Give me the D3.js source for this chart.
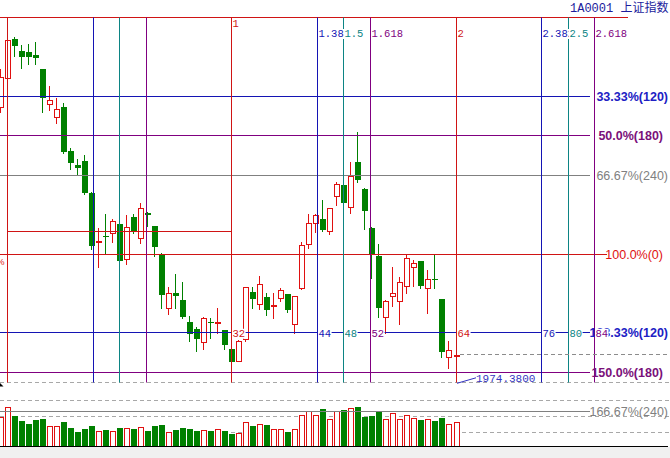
<!DOCTYPE html>
<html><head><meta charset="utf-8">
<script src="https://cdn.jsdelivr.net/npm/d3@7"></script>
<style>html,body{margin:0;padding:0;background:#fff;overflow:hidden}svg{display:block}</style>
</head><body>
<svg id="c" width="670" height="458"></svg>
<script>
// ---------- data ----------
const barIndex = d3.range(-1, 65);
const opens  = [2199.5,2224.0,2257.8,2247.5,2246.3,2244.0,2231.7,2201.9,2190.4,2199.0,2161.4,2149.3,2152.8,2125.0,2084.0,2088.6,2090.6,2098.3,2068.7,2104.3,2086.3,2108.3,2096.9,2072.8,2026.0,2038.9,2033.2,2014.0,2008.0,1997.3,2014.6,2013.9,2007.3,1991.0,1980.9,1999.4,2039.8,2029.5,2035.5,2028.7,2034.6,2038.1,2012.5,2043.2,2081.4,2099.7,2102.9,2092.8,2122.7,2132.1,2113.5,2151.7,2128.7,2095.4,2071.0,2018.3,2036.9,2032.6,2045.2,2061.8,2066.7,2043.2,2051.1,2034.0,1983.9,1985.6];
const highs  = [2232.0,2257.5,2259.8,2252.6,2253.5,2255.0,2232.0,2217.3,2206.7,2202.4,2163.7,2154.2,2158.0,2126.4,2094.9,2107.2,2102.9,2098.5,2106.3,2107.2,2116.4,2109.2,2097.2,2073.6,2044.1,2055.3,2048.9,2019.4,2010.2,2018.8,2017.9,2026.5,2007.5,1991.5,1998.5,2044.5,2044.6,2053.8,2039.0,2038.9,2043.8,2038.5,2037.0,2083.4,2106.9,2107.2,2119.2,2112.5,2135.0,2132.5,2152.2,2178.0,2129.8,2095.8,2081.4,2033.0,2061.3,2053.2,2071.9,2067.6,2067.0,2059.0,2071.9,2034.3,1997.9,1986.2];
const lows   = [2195.2,2223.5,2243.2,2232.6,2236.0,2236.0,2195.2,2196.7,2185.2,2159.9,2145.6,2140.7,2124.1,2077.0,2061.8,2073.9,2082.8,2066.5,2063.9,2090.6,2082.5,2096.9,2070.6,2026.0,2020.9,2026.0,2017.4,1998.2,1989.5,1990.8,2000.2,2004.5,1990.8,1979.5,1980.5,1998.0,2026.0,2025.2,2020.3,2017.9,2032.3,2023.1,2004.5,2042.8,2077.7,2092.0,2092.8,2090.0,2114.9,2116.0,2107.8,2135.0,2094.0,2051.9,2018.3,2004.8,2028.3,2012.3,2039.5,2045.2,2043.2,2022.2,2043.2,1984.4,1974.38,1985.5];
const closes = [2225.3,2256.9,2252.0,2242.0,2242.5,2241.7,2206.7,2205.3,2197.5,2160.8,2150.8,2147.0,2125.5,2079.6,2084.3,2088.4,2101.4,2067.0,2096.2,2092.5,2112.1,2106.1,2078.4,2037.5,2038.9,2036.6,2018.8,2003.7,1999.6,2017.9,2014.4,2014.1,1994.4,1980.1,1997.9,2044.1,2034.0,2046.7,2024.6,2029.1,2041.8,2024.6,2036.6,2080.5,2099.2,2106.3,2093.4,2112.1,2133.0,2116.4,2140.2,2136.5,2110.0,2071.9,2026.0,2032.6,2039.5,2048.4,2069.1,2064.8,2045.5,2051.5,2050.9,1988.7,1990.1,1986.0];
const volumes= [730,980,762,638,562,662,688,512,512,612,462,362,438,512,380,412,388,462,462,438,488,388,512,538,355,412,462,438,388,412,388,438,388,320,338,605,512,555,530,438,438,362,438,780,880,780,938,688,880,912,955,988,745,762,888,688,838,688,780,712,670,688,645,720,555,605];

const levelPcts    = [33.33, 50.0, 66.67, 100.0, 133.33, 150.0, 166.67];
const levelDegrees = [120, 180, 240, 0, 120, 180, 240];
const levelTop = 2276.5, levelBottom = 2072.7;   // 0% and 100% prices
const boxPrice = 2091.7;
const timeRatios = [0, 0.382, 0.5, 0.618, 1, 1.382, 1.5, 1.618, 2, 2.382, 2.5, 2.618];
const timeCycle = 32;
const volTicks = [340, 740, 1140, 1600];
const lowPrice = 1974.38;
const title = "1A0001 上证指数";

// ---------- setup ----------
const W = 670, H = 458;
const RED = "#e01010", LRED = "#d01414", GREEN = "#008000", BLUE = "#1414b4", TEAL = "#0c8484", PURPLE = "#800080";
const svg = d3.select("#c");
const x  = d3.scaleLinear().domain([0, 64]).range([7.3, 455.5]);
const y  = d3.scaleLinear().domain([1974.38, 2177.98]).range([368.3, 131.7]);
const vy = d3.scaleLinear().domain([0, 1600]).range([446.5, 382.5]);
const cr = v => Math.floor(v) + 0.5;
const levelY = p => y(levelTop + (levelBottom - levelTop) * p / 100);
const degColor = {120: BLUE, 180: PURPLE, 240: "#808080", 0: LRED};
const degLabel = {120: "#2020c4", 180: "#7a107a", 240: "#808080", 0: RED};
const ratioColor = r => { const f = Math.round((r % 1) * 1000); return f === 382 ? BLUE : f === 500 ? TEAL : f === 618 ? PURPLE : LRED; };
const MONO = "'Liberation Mono','DejaVu Sans Mono',monospace";
const SANS = "'Liberation Sans',Arial,sans-serif";

svg.append("rect").attr("width", W).attr("height", H).attr("fill", "#fff");

const candles = barIndex.map((i, k) => ({i, o: opens[k], h: highs[k], l: lows[k], c: closes[k], v: volumes[k]}));
const mainBottom = cr(vy(1600));

// dashed panel / volume grid lines
svg.append("g").selectAll("line").data(volTicks).join("line")
  .attr("x1", 0).attr("x2", W).attr("y1", d => cr(vy(d))).attr("y2", d => cr(vy(d)))
  .attr("stroke", "#a8a8a8").attr("stroke-dasharray", "4,3");

// volume bars
const vg = svg.append("g");
candles.forEach(d => {
  const X = Math.round(x(d.i));
  const up = d.c >= d.o;
  const top = Math.round(vy(d.v)), base = Math.round(vy(0));
  if (up) {
    vg.append("rect").attr("x", X - 1.5).attr("y", top + 0.5).attr("width", 5).attr("height", base - top - 1)
      .attr("fill", "#fff").attr("stroke", RED);
  } else {
    vg.append("rect").attr("x", X - 2).attr("y", top).attr("width", 6).attr("height", base - top).attr("fill", GREEN);
  }
});

// candles
const cg = svg.append("g");
candles.forEach(d => {
  const X = Math.round(x(d.i));
  const up = d.c >= d.o;
  const col = up ? RED : GREEN;
  cg.append("line").attr("x1", X + 0.5).attr("x2", X + 0.5)
    .attr("y1", Math.round(y(d.h))).attr("y2", Math.round(y(d.l)) + 1).attr("stroke", col);
  const top = Math.round(y(Math.max(d.o, d.c))), bot = Math.round(y(Math.min(d.o, d.c)));
  if (up) {
    cg.append("rect").attr("x", X - 1.5).attr("y", top + 0.5).attr("width", 5).attr("height", Math.max(bot - top, 1))
      .attr("fill", "#fff").attr("stroke", col);
  } else {
    cg.append("rect").attr("x", X - 2).attr("y", top).attr("width", 6).attr("height", Math.max(bot - top, 1)).attr("fill", col);
  }
});

// horizontal level lines
const lg = svg.append("g");
lg.append("line").attr("x1", 0).attr("x2", 628).attr("y1", cr(levelY(0))).attr("y2", cr(levelY(0))).attr("stroke", LRED);
lg.append("line").attr("x1", Math.round(x(0))).attr("x2", Math.round(x(timeCycle)) + 1)
  .attr("y1", cr(y(boxPrice))).attr("y2", cr(y(boxPrice))).attr("stroke", LRED);
levelPcts.forEach((p, k) => {
  const deg = levelDegrees[k];
  lg.append("line").attr("x1", 0).attr("x2", p === 100 ? 607 : 590)
    .attr("y1", cr(levelY(p))).attr("y2", cr(levelY(p))).attr("stroke", degColor[deg]);
});

// vertical time lines
timeRatios.forEach(r => {
  const lx = Math.round(x(r * timeCycle)) + 0.5;
  lg.append("line").attr("x1", lx).attr("x2", lx).attr("y1", cr(levelY(0))).attr("y2", mainBottom)
    .attr("stroke", ratioColor(r));
});

// current price dashed line
const last = candles[candles.length - 1];
svg.append("line").attr("x1", Math.round(x(last.i)) + 4).attr("x2", W)
  .attr("y1", cr(y(last.c))).attr("y2", cr(y(last.c)))
  .attr("stroke", "#8c8c8c").attr("stroke-dasharray", "4,3");

// level labels (right)
levelPcts.forEach((p, k) => {
  const deg = levelDegrees[k];
  const bold = deg === 120 || deg === 180;
  svg.append("text").attr("x", p % 1 === 0 ? 663 : 668).attr("y", levelY(p) + 4.5).attr("text-anchor", "end")
    .attr("font-family", SANS).attr("font-size", 12.5).attr("font-weight", bold ? "bold" : "normal")
    .attr("fill", degLabel[deg]).text(p.toFixed(p % 1 === 0 ? 1 : 2) + "%(" + deg + ")");
});
// clipped left label
svg.append("text").attr("x", 4.5).attr("y", levelY(100) + 11).attr("text-anchor", "end")
  .attr("font-family", SANS).attr("font-size", 9).attr("fill", RED).text("100.0%");

// time labels with white background
const tg = svg.append("g");
function boxLabel(tx, ty, str, col) {
  const w = str.length * 6.3 + 1;
  tg.append("rect").attr("x", tx - 0.5).attr("y", ty - 8).attr("width", w).attr("height", 10).attr("fill", "#fff");
  tg.append("text").attr("x", tx).attr("y", ty).attr("font-family", MONO).attr("font-size", 10.5)
    .attr("fill", col).text(str);
}
timeRatios.filter(r => r >= 1).forEach(r => {
  const lx = Math.round(x(r * timeCycle)) + 1.5;
  boxLabel(lx, r === 1 ? 27 : 37, String(r), ratioColor(r));
});
timeRatios.filter(r => r >= 1).forEach(r => {
  const lx = Math.round(x(r * timeCycle)) + 1.5;
  boxLabel(lx, levelY(133.33) + 3.8, String(Math.round(r * timeCycle)), ratioColor(r));
});

// low annotation
const lowBar = candles.find(d => d.l === lowPrice);
const ax0 = Math.round(x(lowBar.i + 1)) + 1, ay0 = y(lowPrice) + 15;
svg.append("line").attr("x1", ax0).attr("y1", ay0).attr("x2", ax0 + 19).attr("y2", ay0 - 5.5)
  .attr("stroke", "#3030c0");
svg.append("text").attr("x", ax0 + 19).attr("y", ay0 - 1.5).attr("font-family", MONO).attr("font-size", 11)
  .attr("fill", "#3535c0").text(lowPrice.toFixed(4));

// small cursor mark
svg.append("path").attr("d", "M0,383 L3.5,386.5 L0,386.5 Z").attr("fill", "#000");

// title
svg.append("text").attr("x", 570).attr("y", 12).attr("font-family", MONO + ",'Noto Sans CJK SC'")
  .attr("font-size", 12).attr("fill", "#1c1c9c").text(title);

// bottom strip
svg.append("rect").attr("x", 0).attr("y", 447).attr("width", W).attr("height", H - 447).attr("fill", "#f0f0f0");
svg.append("line").attr("x1", 0).attr("x2", 668).attr("y1", cr(vy(0))).attr("y2", cr(vy(0))).attr("stroke", "#000");
</script>
</body></html>
